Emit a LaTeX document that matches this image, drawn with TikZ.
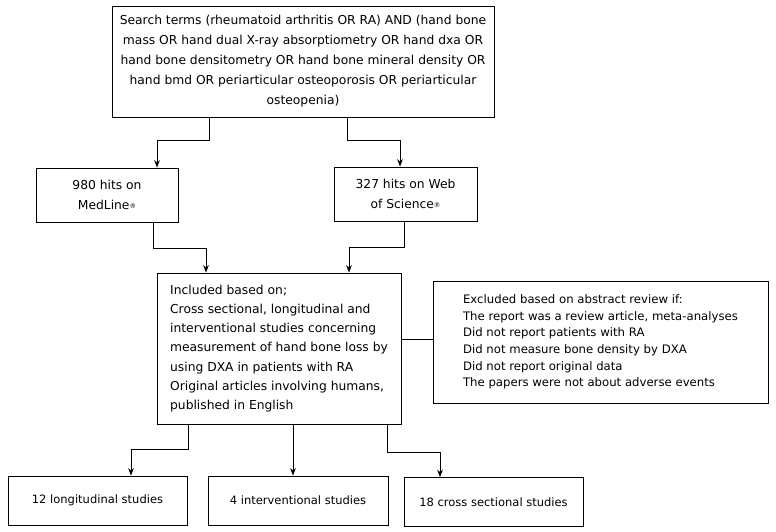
\documentclass[tikz,border=0pt]{standalone}
\usepackage{fontspec}
\setmainfont{DejaVu Sans}
\usetikzlibrary{arrows.meta,positioning,calc}

\newcommand{\regmark}{{\fontsize{6.5}{6.5}\selectfont\raisebox{0.2ex}{®}}}

\begin{document}
\begin{tikzpicture}[
    x=1pt, y=-1pt,
    box/.style={rectangle, draw, line width=0.9pt, inner sep=0pt, align=center, font=\fontsize{12.3}{20}\selectfont},
    listbox/.style={box, align=left},
    resbox/.style={box, minimum height=49pt, font=\fontsize{11.5}{16}\selectfont},
    arrow/.style={-{Stealth[length=2.6mm, width=2mm]}, line width=0.8pt}
]
\useasboundingbox (0,0) rectangle (776,532);

% Search terms
\node[box, minimum width=382pt, minimum height=111pt] (search) at (303,61.5) {Search terms (rheumatoid arthritis OR RA) AND (hand bone\\
mass OR hand dual X-ray absorptiometry OR hand dxa OR\\
hand bone densitometry OR hand bone mineral density OR\\
hand bmd OR periarticular osteoporosis OR periarticular\\
osteopenia)};

% Databases
\node[box, minimum width=142pt, minimum height=54pt] (medline) at (107,195) {980 hits on\\MedLine\regmark};
\node[box, minimum width=143pt, minimum height=54pt] (wos) at (405.5,194) {327 hits on Web\\of Science\regmark};

% Inclusion and exclusion
\node[listbox, minimum width=244pt, minimum height=151pt, font=\fontsize{12.3}{19.2}\selectfont] (incl) at (279,348.5) {Included based on;\\
Cross sectional, longitudinal and\\
interventional studies concerning\\
measurement of hand bone loss by\\
using DXA in patients with RA\\
Original articles involving humans,\\
published in English};
\node[listbox, minimum width=335pt, minimum height=122pt, font=\fontsize{11.7}{16.6}\selectfont] (excl) at (600.5,342) {Excluded based on abstract review if:\\
The report was a review article, meta-analyses\\
Did not report patients with RA\\
Did not measure bone density by DXA\\
Did not report original data\\
The papers were not about adverse events};

% Results
\node[resbox, minimum width=179pt] (long) at (97.5,500.5) {12 longitudinal studies};
\node[resbox, minimum width=180pt] (inter) at (298,500.5) {4 interventional studies};
\node[resbox, minimum width=179pt] (cross) at (493.5,502) {18 cross sectional studies};

\draw[arrow] ([xshift=-94pt]search.south) -- ++(0,23) -| ([xshift=50pt]medline.north);
\draw[arrow] ([xshift=44pt]search.south) -- ++(0,23) -| ([xshift=-5.5pt]wos.north);
\draw[arrow] ([xshift=46pt]medline.south) -- ++(0,26) -| ([xshift=-73pt]incl.north);
\draw[arrow] ([xshift=-1.5pt]wos.south) -- ++(0,26) -| ([xshift=70pt]incl.north);
\draw[line width=0.8pt] ([yshift=3pt]excl.west) -- ([yshift=3pt]excl.west -| incl.east);
\draw[arrow] ([xshift=-91pt]incl.south) -- ++(0,25) -| ([xshift=33.5pt]long.north);
\draw[arrow] ([xshift=14pt]incl.south) -- ([xshift=-5pt]inter.north);
\draw[arrow] ([xshift=108pt]incl.south) -- ++(0,28) -| ([xshift=-53.5pt]cross.north);

\end{tikzpicture}
\end{document}
